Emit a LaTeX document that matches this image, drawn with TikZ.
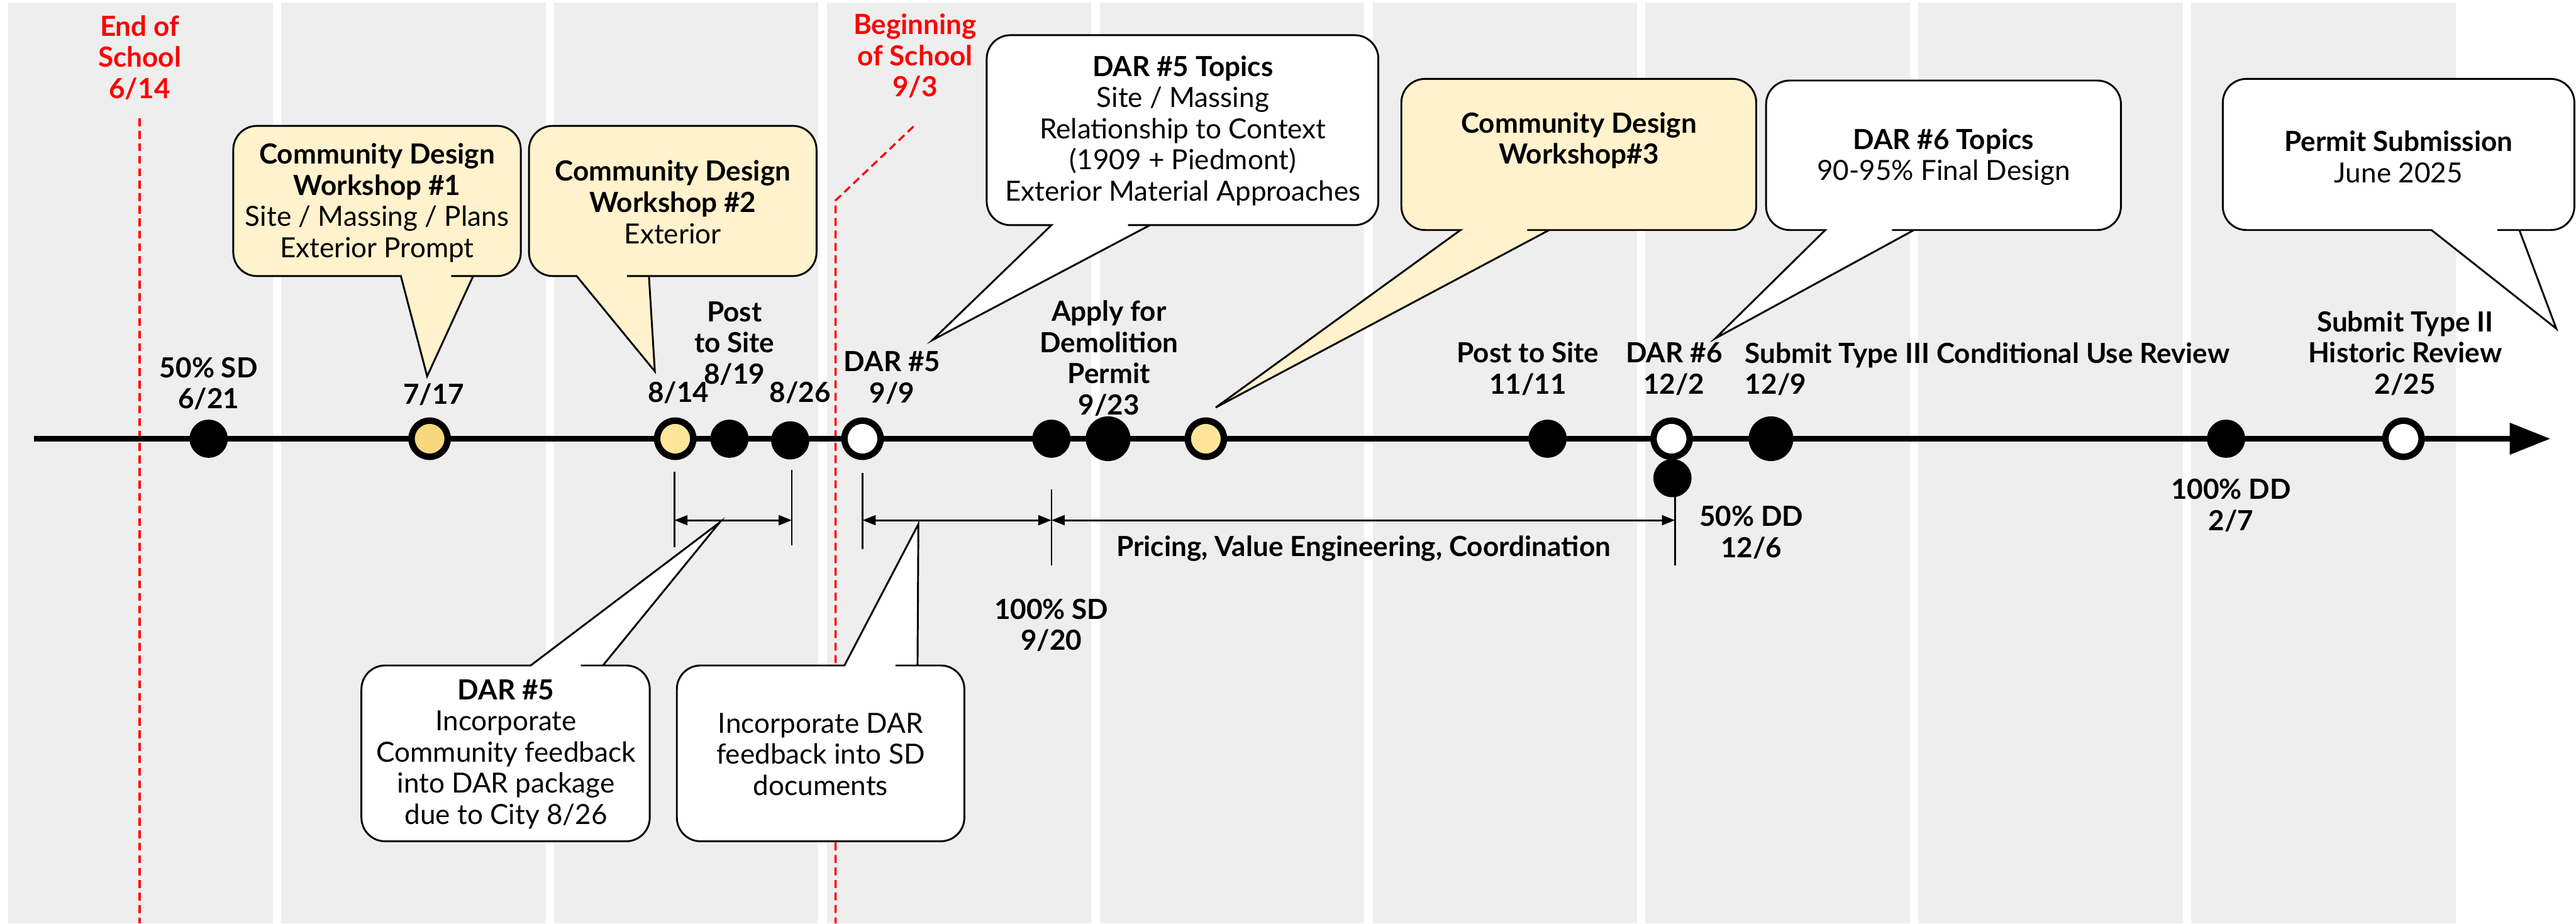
\documentclass[tikz,border=0pt]{standalone}
\usepackage{fontspec}
\setmainfont{Lato}
\usepackage{tikz}
\usetikzlibrary{arrows.meta, positioning}
\definecolor{BandGray}{HTML}{EEEEEE}
\definecolor{SchoolRed}{HTML}{FF0000}
\definecolor{WorkshopFill}{HTML}{FFF2CC}
\definecolor{WorkshopDot}{HTML}{FFE599}
\definecolor{WorkshopDotDark}{HTML}{F9D77E}
\tikzset{
  % Background
  bandbox/.style={fill=BandGray, draw=none},
  % Timeline styles
  timeline/.style={line width=2.7pt, -{Triangle[length=0.62cm, width=0.46cm]}},
  blackdot/.style={circle, fill=black, minimum size=0.58cm, inner sep=0pt},
  bigdot/.style={circle, fill=black, minimum size=0.68cm, inner sep=0pt},
  ringdot/.style={circle, draw=black, line width=2.8pt, fill=white, minimum size=0.55cm, inner sep=0pt},
  % Text styles
  datelabel/.style={font=\fontsize{12}{13.5}\selectfont\bfseries, align=center, inner sep=0pt},
  schoollabel/.style={datelabel, text=SchoolRed},
  bubbletext/.style={font=\fontsize{12}{13.5}\selectfont, align=center, inner sep=0pt},
  % Line styles
  schoolline/.style={SchoolRed, line width=0.9pt, dash pattern=on 0.12cm off 0.07cm},
  bubble/.style={draw=black, line width=0.8pt, fill=white},
  dimarrow/.style={{Triangle[length=0.2cm, width=0.15cm]}-{Triangle[length=0.2cm, width=0.15cm]}, line width=0.8pt},
  tickline/.style={line width=0.7pt}
}

\begin{document}
\begin{tikzpicture}[x=0.025cm, y=-0.025cm]
  \useasboundingbox (0,0) rectangle (1568,562);

  % month bands
  \foreach \i in {0,...,8}
    \fill[bandbox] (5+166.1*\i,1.5) rectangle ++(161,560.5);

  % school dates
  \coordinate (endtop) at (85,72);
  \coordinate (endbot) at (85,562);
  \draw[schoolline] (endtop) -- (endbot);
  \coordinate (begtop) at (556,77);
  \coordinate (begbend) at (508.6,122);
  \coordinate (begbot) at (508.6,562);
  \draw[schoolline] (begtop) -- (begbend) -- (begbot);
  \node[schoollabel] (endschool) at (85,35) {End of\\School\\6/14};
  \node[schoollabel] (beginschool) at (557,34) {Beginning\\of School\\9/3};

  % main line
  \coordinate (tlstart) at (20.7,267);
  \coordinate (tlend) at (1552.5,267);
  \draw[timeline] (tlstart) -- (tlend);

  % spans below the line
  \draw[tickline] (410.5,287) -- (410.5,333);
  \draw[tickline] (482,286) -- (482,332);
  \draw[tickline] (525,288) -- (525,334);
  \draw[tickline] (640,298) -- (640,344);
  \draw[tickline] (1019.6,300) -- (1019.6,344);
  \coordinate (s814) at (410.5,316.6);
  \coordinate (s826) at (482,316.6);
  \coordinate (s909) at (525,316.6);
  \coordinate (s920) at (640,316.6);
  \coordinate (s1206) at (1019.6,316.6);
  \draw[dimarrow] (s814) -- (s826);
  \draw[dimarrow] (s909) -- (s920);
  \draw[dimarrow] (s920) -- (s1206);
  \node[datelabel] (pricing) at (830,334) {Pricing, Value Engineering, Coordination};

  % callouts above
  \draw[bubble, fill=WorkshopFill] (260,229) -- (244,168) -- (243,168) [rounded corners=0.36cm] -- (142,168) -- (142,76.6) -- (317,76.6) -- (317,168) -- (289,168) [sharp corners] -- (288,168) -- cycle;
  \draw[bubble, fill=WorkshopFill] (398.6,226) -- (351,168) -- (350,168) [rounded corners=0.36cm] -- (322,168) -- (322,76.6) -- (497,76.6) -- (497,168) -- (396,168) [sharp corners] -- (395,168) -- cycle;
  \draw[bubble] (567.5,207) -- (640,137) -- (639,137) [rounded corners=0.36cm] -- (600.6,137) -- (600.6,21.4) -- (839,21.4) -- (839,137) -- (701,137) [sharp corners] -- (700,137) -- cycle;
  \draw[bubble, fill=WorkshopFill] (740,248) -- (889,140) -- (888,140) [rounded corners=0.36cm] -- (853,140) -- (853,48) -- (1069,48) -- (1069,140) -- (944,140) [sharp corners] -- (943,140) -- cycle;
  \draw[bubble] (1044,206) -- (1111,140) -- (1110,140) [rounded corners=0.36cm] -- (1075,140) -- (1075,49) -- (1291,49) -- (1291,140) -- (1166,140) [sharp corners] -- (1165,140) -- cycle;
  \draw[bubble] (1556,200) -- (1480,140) -- (1479,140) [rounded corners=0.36cm] -- (1353,140) -- (1353,48) -- (1567,48) -- (1567,140) -- (1534.5,140) [sharp corners] -- (1533.5,140) -- cycle;

  % callouts below
  \draw[bubble] (438,318) -- (323,405) -- (322,405) [rounded corners=0.36cm] -- (220,405) -- (220,512) -- (395.5,512) -- (395.5,405) -- (368,405) [sharp corners] -- (367,405) -- cycle;
  \draw[bubble] (559,319) -- (514,405) -- (513,405) [rounded corners=0.36cm] -- (412,405) -- (412,512) -- (587,512) -- (587,405) -- (559.5,405) [sharp corners] -- (558.5,405) -- cycle;

  \node[bubbletext] (ws1) at (229.5,123.5) {\textbf{Community Design}\\\textbf{Workshop \#1}\\Site / Massing / Plans\\Exterior Prompt};
  \node[bubbletext] (ws2) at (409.5,123) {\textbf{Community Design}\\\textbf{Workshop \#2}\\Exterior};
  \node[bubbletext] (dar5topics) at (720,79.5) {\textbf{DAR \#5 Topics}\\Site / Massing\\Relationship to Context\\(1909 + Piedmont)\\Exterior Material Approaches};
  \node[bubbletext] (ws3) at (961,85.5) {\textbf{Community Design}\\\textbf{Workshop\#3}};
  \node[bubbletext] (dar6topics) at (1183,95.5) {\textbf{DAR \#6 Topics}\\90-95\% Final Design};
  \node[bubbletext] (permit) at (1460,95.5) {\textbf{Permit Submission}\\June 2025};
  \node[bubbletext] (dar5feedback) at (308,459) {\textbf{DAR \#5}\\Incorporate\\Community feedback\\into DAR package\\due to City 8/26};
  \node[bubbletext] (sdfeedback) at (499.5,459) {Incorporate DAR\\feedback into SD\\documents};

  % milestones
  \node[blackdot] (m621) at (127,267) {};
  \node[ringdot, fill=WorkshopDotDark] (m717) at (261.5,267) {};
  \node[ringdot, fill=WorkshopDot] (m814) at (411,267) {};
  \node[blackdot] (m819) at (444,267) {};
  \node[blackdot] (m826) at (481,268) {};
  \node[ringdot] (m909) at (525,267) {};
  \node[blackdot] (m920) at (640,267) {};
  \node[bigdot] (m923) at (674.5,267) {};
  \node[ringdot, fill=WorkshopDot] (mws3) at (734,267) {};
  \node[blackdot] (m1111) at (942,267) {};
  \node[blackdot] (m1206) at (1018,291) {};
  \node[ringdot] (m1202) at (1017.5,267) {};
  \node[bigdot] (m1209) at (1078,267) {};
  \node[blackdot] (m207) at (1355,267) {};
  \node[ringdot] (m225) at (1463,267) {};

  % milestone labels
  \node[datelabel] (l621) at (127,233.5) {50\% SD\\6/21};
  \node[datelabel] (l717) at (264,240) {7/17};
  \node[datelabel] (l814) at (413,239) {8/14};
  \node[datelabel] (l819) at (447,209) {Post\\to Site\\8/19};
  \node[datelabel] (l826) at (487,239) {8/26};
  \node[datelabel] (l909) at (543,230) {DAR \#5\\9/9};
  \node[datelabel] (l923) at (675,218) {Apply for\\Demolition\\Permit\\9/23};
  \node[datelabel] (l1111) at (930,224.5) {Post to Site\\11/11};
  \node[datelabel] (l1202) at (1019,224.5) {DAR \#6\\12/2};
  \node[datelabel, anchor=west, align=left] (l1209) at (1062,224.5) {Submit Type III Conditional Use Review\\12/9};
  \node[datelabel] (l225) at (1464,215) {Submit Type II\\Historic Review\\2/25};
  \node[datelabel] (l1206) at (1066,324) {50\% DD\\12/6};
  \node[datelabel] (l207) at (1358,307.5) {100\% DD\\2/7};
  \node[datelabel] (l920) at (640,380.5) {100\% SD\\9/20};
\end{tikzpicture}
\end{document}
